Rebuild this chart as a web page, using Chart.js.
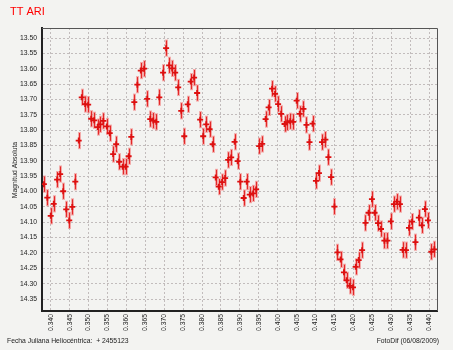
<!DOCTYPE html>
<html>
<head>
<meta charset="utf-8">
<script src="https://cdn.jsdelivr.net/npm/chart.js@4"></script>
<style>
  body { margin: 0; background: #f3f3f1; }
  #lc { display: block; }
</style>
</head>
<body>
<canvas id="lc" width="453" height="350"></canvas>
<script>
// Heliocentric JD - 2455123
const jd = [
  0.3382,0.3391,0.3400,0.3408,0.3417,0.3425,0.3433,0.3441,0.3449,0.3457,
  0.3465,0.3474,0.3482,0.3491,0.3499,0.3507,0.3515,0.3524,0.3531,0.3539,
  0.3548,0.3556,0.3565,0.3573,0.3581,0.3590,0.3598,0.3606,0.3613,0.3621,
  0.3629,0.3638,0.3647,0.3655,0.3663,0.3671,0.3679,0.3687,0.3697,0.3705,
  0.3713,0.3721,0.3729,0.3737,0.3745,0.3753,0.3762,0.3770,0.3779,0.3787,
  0.3795,0.3803,0.3811,0.3820,0.3828,0.3836,0.3844,0.3853,0.3861,0.3869,
  0.3877,0.3886,0.3894,0.3901,0.3910,0.3918,0.3926,0.3935,0.3943,0.3951,
  0.3959,0.3968,0.3976,0.3985,0.3993,0.4001,0.4009,0.4018,0.4025,0.4033,
  0.4041,0.4050,0.4058,0.4068,0.4076,0.4084,0.4092,0.4101,0.4109,0.4117,
  0.4126,0.4134,0.4141,0.4150,0.4158,0.4166,0.4175,0.4182,0.4190,0.4199,
  0.4206,0.4214,0.4223,0.4232,0.4240,0.4249,0.4256,0.4265,0.4273,0.4282,
  0.4290,0.4299,0.4307,0.4315,0.4323,0.4330,0.4339,0.4347,0.4355,0.4364,
  0.4373,0.4381,0.4389,0.4397,0.4406,0.4414
];
const mag = [
  13.976,14.020,14.079,14.040,13.961,13.943,13.999,14.058,14.094,14.050,
  13.968,13.834,13.693,13.715,13.717,13.763,13.768,13.790,13.781,13.770,
  13.788,13.810,13.878,13.846,13.903,13.919,13.919,13.885,13.822,13.709,
  13.652,13.606,13.600,13.698,13.764,13.769,13.773,13.693,13.613,13.533,
  13.589,13.599,13.613,13.661,13.737,13.820,13.716,13.642,13.629,13.679,
  13.766,13.820,13.781,13.797,13.846,13.954,13.984,13.969,13.956,13.897,
  13.889,13.838,13.901,13.968,14.021,13.968,14.010,14.006,13.993,13.852,
  13.845,13.764,13.726,13.665,13.682,13.715,13.747,13.780,13.775,13.771,
  13.773,13.704,13.747,13.731,13.783,13.839,13.779,13.965,13.940,13.839,
  13.831,13.888,13.953,14.049,14.198,14.221,14.263,14.289,14.307,14.312,
  14.245,14.223,14.191,14.102,14.069,14.025,14.069,14.103,14.122,14.160,
  14.160,14.097,14.041,14.033,14.041,14.190,14.191,14.118,14.098,14.165,
  14.085,14.110,14.057,14.094,14.196,14.188
];
const magErr = 0.028;

const points = jd.map((x, i) => ({ x: x, y: mag[i] }));
const FONT = 'Liberation Sans, Arial, sans-serif';

// error bars, drawn under the markers
const errorBars = {
  id: 'errorBars',
  beforeDatasetsDraw(chart) {
    const { ctx, scales: { x, y } } = chart;
    ctx.save();
    for (let i = 0; i < jd.length; i++) {
      const px = Math.round(x.getPixelForValue(jd[i])) + 0.5;
      const y1 = y.getPixelForValue(mag[i] - magErr);
      const y2 = y.getPixelForValue(mag[i] + magErr);
      ctx.strokeStyle = 'rgba(242,110,110,0.55)';
      ctx.lineWidth = 3;
      ctx.beginPath();
      ctx.moveTo(px, y1);
      ctx.lineTo(px, y2);
      ctx.stroke();
      ctx.strokeStyle = 'rgba(225,25,25,0.9)';
      ctx.lineWidth = 1;
      ctx.beginPath();
      ctx.moveTo(px, y1 + 1);
      ctx.lineTo(px, y2 - 1);
      ctx.stroke();
    }
    ctx.restore();
  }
};

const decorations = {
  id: 'decorations',
  beforeDraw(chart) {
    const ctx = chart.ctx;
    ctx.save();
    ctx.fillStyle = '#f3f3f1';
    ctx.fillRect(0, 0, chart.width, chart.height);
    ctx.restore();
  },
  afterDraw(chart) {
    const { ctx, chartArea: a } = chart;
    ctx.save();
    // top & right frame
    ctx.strokeStyle = '#555';
    ctx.lineWidth = 1;
    ctx.beginPath();
    ctx.moveTo(a.left, a.top + 0.5);
    ctx.lineTo(a.right + 0.5, a.top + 0.5);
    ctx.lineTo(a.right + 0.5, a.bottom);
    ctx.stroke();

    ctx.fillStyle = '#ff0000';
    ctx.font = '11px ' + FONT;
    ctx.textBaseline = 'alphabetic';
    ctx.fillText('TT ARI', 10, 15);

    ctx.fillStyle = '#222';
    ctx.font = '6.8px ' + FONT;
    ctx.fillText('Fecha Juliana Heliocéntrica:  + 2455123', 7, 343);
    ctx.textAlign = 'right';
    ctx.fillText('FotoDif (06/08/2009)', 439, 343);

    ctx.translate(17, 170);
    ctx.rotate(-Math.PI / 2);
    ctx.textAlign = 'center';
    ctx.fillText('Magnitud Absoluta', 0, 0);
    ctx.restore();
  }
};

const gridStyle = { color: '#c2bcbc', drawTicks: false };
const borderStyle = { display: true, color: '#222', width: 2, dash: [2, 2] };

new Chart(document.getElementById('lc').getContext('2d'), {
  type: 'scatter',
  data: {
    datasets: [{
      data: points,
      pointStyle: 'cross',
      radius: 3,
      borderWidth: 1.8,
      borderColor: '#dd1010'
    }, {
      data: points,
      pointStyle: 'rect',
      radius: 1,
      borderWidth: 0,
      backgroundColor: '#3a0000'
    }]
  },
  options: {
    responsive: false,
    animation: false,
    layout: { padding: { left: 0, top: 28, right: 16, bottom: 0 } },
    plugins: { legend: { display: false }, tooltip: { enabled: false } },
    scales: {
      x: {
        type: 'linear',
        min: 0.3377,
        max: 0.4421,
        grid: gridStyle,
        border: borderStyle,
        afterFit(s) { s.height = 39; },
        ticks: {
          stepSize: 0.005,
          includeBounds: false,
          minRotation: 90,
          maxRotation: 90,
          padding: 3,
          color: '#222',
          font: { family: FONT, size: 6.8 },
          callback: v => v.toFixed(3)
        }
      },
      y: {
        reverse: true,
        min: 13.4674,
        max: 14.389,
        grid: gridStyle,
        border: borderStyle,
        afterFit(s) { s.width = 42; },
        ticks: {
          stepSize: 0.05,
          includeBounds: false,
          padding: 5,
          color: '#222',
          font: { family: FONT, size: 6.8 },
          callback: v => v.toFixed(2)
        }
      }
    }
  },
  plugins: [errorBars, decorations]
});
</script>
</body>
</html>
